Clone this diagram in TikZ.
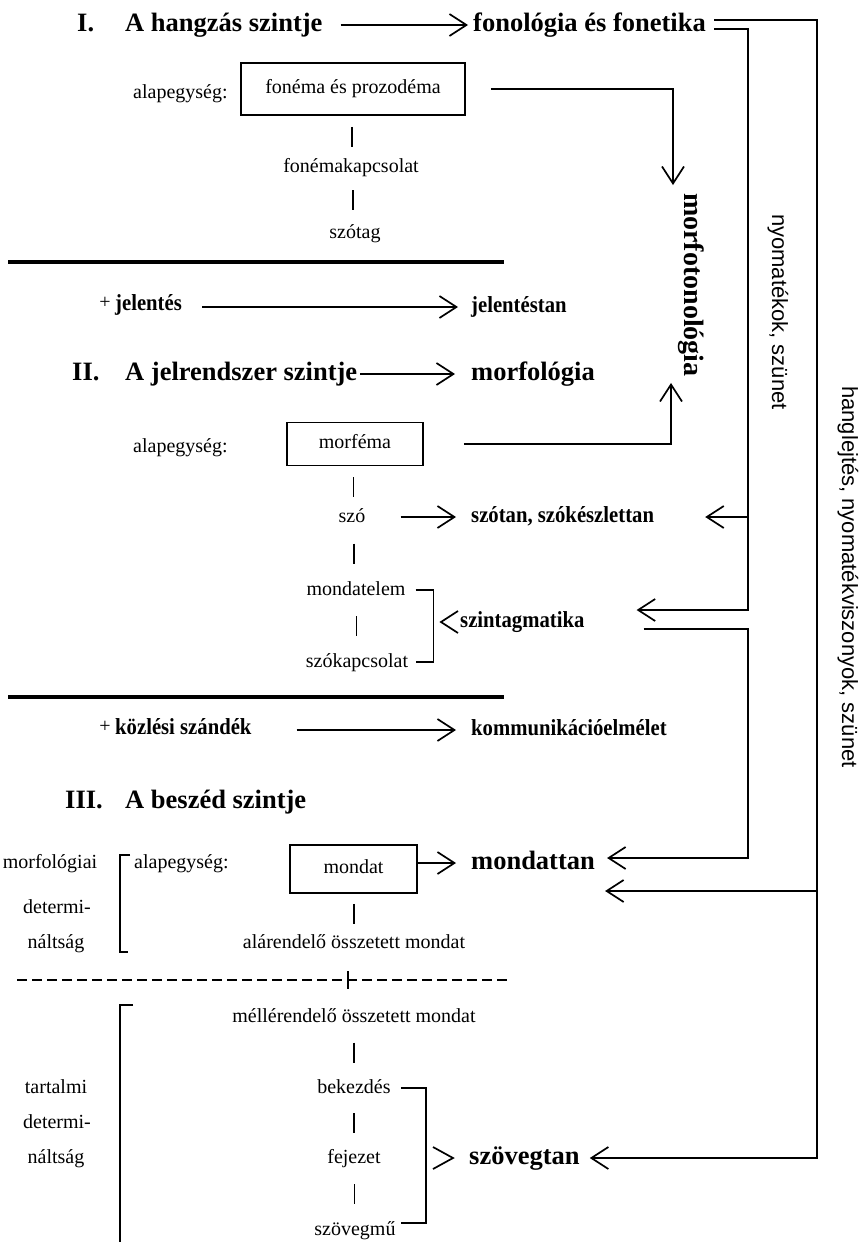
\documentclass[tikz,border=0pt]{standalone}
\usepackage{fontspec}
\setmainfont{Liberation Serif}
\newfontfamily\condfont[FakeStretch=0.9]{Liberation Serif}
\newfontfamily\rsansfont{Liberation Sans}
\usetikzlibrary{arrows.meta,calc}
\newcommand\vlink[2]{\draw[ln] ($(#1.south)!0.5!(#2.north)+(0,-10)$) -- ++(0,20);}
\begin{document}
\begin{tikzpicture}[x=1pt,y=-1pt,
  ln/.style={line width=1.7pt},
  arr/.style={ln,-{Straight Barb[length=17pt,width=22pt,line width=1.7pt]}},
  sep/.style={line width=3.5pt},
  title/.style={font=\fontsize{26.5}{30}\selectfont\bfseries,inner sep=0pt,text height=18pt,text depth=6pt},
  norm/.style={font=\fontsize{20}{24}\selectfont,inner sep=0pt,text height=14pt,text depth=4pt},
  cb/.style={font=\condfont\fontsize{23}{26}\selectfont\bfseries,inner sep=0pt,text height=15pt,text depth=5pt},
  rs/.style={font=\rsansfont\fontsize{22}{26}\selectfont,inner sep=0pt,rotate=-90},
  box/.style={draw,line width=1.7pt,font=\fontsize{20}{24}\selectfont,inner sep=0pt,text height=12pt,text depth=4pt}]
\useasboundingbox (0,0) rectangle (862,1242);
\coordinate (ix) at (748,0);
\coordinate (ox) at (817,0);

% ---- Level I
\node[title,anchor=west] (n1) at (77,25) {I.};
\node[title,anchor=west] (t1) at (125,25) {A hangzás szintje};
\node[title,anchor=west] (fon) at (473,25) {fonológia és fonetika};
\draw[arr] ([xshift=18]t1.east) -- ([xshift=-5]fon.west);
\node[norm,anchor=west] (al1) at (133,93) {alapegység:};
\node[box,minimum width=224pt,minimum height=52pt] (b1) at (353,89) {fonéma és prozodéma};
\node[norm] (fk) at (351,167) {fonémakapcsolat};
\node[norm] (szot) at (355,233) {szótag};
\vlink{b1}{fk}
\vlink{fk}{szot}
\draw[sep] (8,262) -- (504,262);

% ---- meaning
\node[norm] (plus1) at (105,303) {+};
\node[cb,anchor=west] (jel) at (115,305) {jelentés};
\node[cb,anchor=west] (jelt) at (471,307) {jelentéstan};
\draw[arr] ([xshift=20]jel.east |- jelt.west) -- ([xshift=-13]jelt.west);

% ---- Level II
\node[title,anchor=west] (n2) at (72,374) {II.};
\node[title,anchor=west] (t2) at (125,374) {A jelrendszer szintje};
\node[title,anchor=west] (morf) at (471,374) {morfológia};
\draw[arr] ([xshift=3]t2.east) -- ([xshift=-16]morf.west);
\node[title,font=\fontsize{28}{32}\selectfont\bfseries,rotate=-90] (mfn) at (690,285) {morfotonológia};
\draw[arr] ([xshift=25]b1.east) -| ([xshift=-17,yshift=8]mfn.west);
\node[norm,anchor=west] (al2) at (133,447) {alapegység:};
\node[box,minimum width=136pt,minimum height=43pt] (b2) at (355,444) {morféma};
\draw[arr] ([xshift=40]b2.east) -| ([xshift=-19,yshift=-6]mfn.east);
\node[norm] (szo) at (352,517) {szó};
\node[cb,anchor=west] (szotan) at (471,517) {szótan, szókészlettan};
\draw[arr] ([xshift=35]szo.east) -- ([xshift=-15]szotan.west);
\draw[arr] (szotan.east -| ix) -- ([xshift=51]szotan.east);
\node[norm] (mel) at (356,590) {mondatelem};
\node[norm] (szk) at (357,662) {szókapcsolat};
\vlink{b2}{szo}
\vlink{szo}{mel}
\vlink{mel}{szk}
\coordinate (bt) at ([xshift=10]mel.east);
\draw[ln] (bt) -- ++(18,0) |- (szk.east -| bt);
\node[cb,anchor=west] (szin) at (460,622) {szintagmatika};
\draw[ln] ([xshift=-2]szin.west) ++(0,-11) -- ++(-17,11) -- ++(17,11);
\draw[sep] (8,697) -- (504,697);

% ---- communicative intent
\node[norm] (plus2) at (105,727) {+};
\node[cb,anchor=west] (kozl) at (115,729) {közlési szándék};
\node[cb,anchor=west] (komm) at (471,730) {kommunikációelmélet};
\draw[arr] ([xshift=45]kozl.east |- komm.west) -- ([xshift=-15]komm.west);

% ---- Level III
\node[title,anchor=west] (n3) at (65,802) {III.};
\node[title,anchor=west] (t3) at (125,802) {A beszéd szintje};
\node[norm] (mlg) at (50,863) {morfológiai};
\node[norm] (det1) at (57,908) {determi-};
\node[norm] (nal1) at (56,943) {náltság};
\draw[ln] (130,855) -- (120,855) -- (120,952) -- (128,952);
\node[norm,anchor=west] (al3) at (134,863) {alapegység:};
\node[box,minimum width=127pt,minimum height=48pt] (b3) at (353.5,869) {mondat};
\node[title,anchor=west] (mtan) at (471,863) {mondattan};
\draw[arr] (b3.east |- mtan.west) -- ([xshift=-15]mtan.west);
\node[norm] (alar) at (354,943) {alárendelő összetett mondat};
\node[norm] (mell) at (354,1017) {méllérendelő összetett mondat};
\vlink{b3}{alar}
\draw[ln,dash pattern=on 10pt off 5pt] (17,980) -- (508,980);
\draw[ln] ($(alar.south)!0.5!(mell.north)+(-6,-9)$) -- ++(0,18);
\draw[ln] (133,1005) -- (120,1005) -- (120,1242);
\node[norm] (tart) at (56,1088) {tartalmi};
\node[norm] (det2) at (57,1123) {determi-};
\node[norm] (nal2) at (56,1158) {náltság};
\node[norm] (bek) at (354,1088) {bekezdés};
\node[norm] (fej) at (354,1158) {fejezet};
\node[norm] (smu) at (355,1230) {szövegmű};
\vlink{mell}{bek}
\vlink{bek}{fej}
\vlink{fej}{smu}
\coordinate (bb) at ([xshift=10]bek.east);
\draw[ln] (bb) -- ++(25,0) |- ([yshift=7]smu.east -| bb);
\node[title,anchor=west] (szt) at (469,1158) {szövegtan};
\draw[ln] ([xshift=-36]szt.west) ++(0,-11) -- ++(20,11) -- ++(-20,11);

% ---- right-hand relays
\node[rs] (nyo) at (778,312) {nyomatékok, szünet};
\node[rs] (hang) at (848,577) {hanglejtés, nyomatékviszonyok, szünet};
\draw[arr] ([xshift=8,yshift=5]fon.east) -- ([yshift=5]fon.east -| ox) |- ([xshift=10]szt.east);
\draw[arr] ([xshift=8,yshift=-4]fon.east) -- ([yshift=-4]fon.east -| ix) |- ([xshift=52,yshift=12]szin.east);
\coordinate (slo) at ([xshift=59,yshift=-7]szin.east);
\coordinate (mup) at ([xshift=12,yshift=5]mtan.east);
\draw[arr] (slo) -- (slo -| ix) |- (mup);
\coordinate (mlow) at ([xshift=10,yshift=-28]mtan.east);
\draw[arr] (mlow -| ox) -- (mlow);
\end{tikzpicture}
\end{document}
